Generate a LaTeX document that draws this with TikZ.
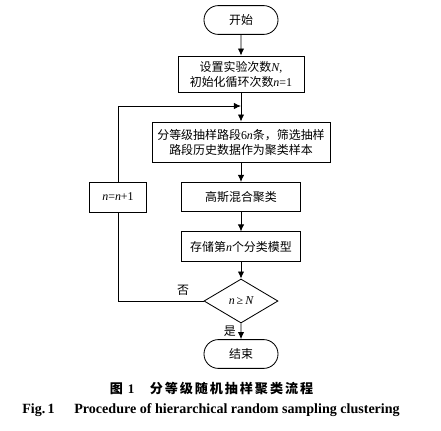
\documentclass[tikz,border=0pt]{standalone}
\usepackage{fontspec}
\setmainfont{Liberation Serif}
\newfontfamily\cjk{Noto Sans CJK SC}
\usetikzlibrary{shapes.geometric,shapes.misc,arrows.meta}

% latin parts inside cjk text
\newcommand{\vn}[1]{{\normalfont\itshape #1}}
\newcommand{\ltn}[1]{{\normalfont #1}}

\begin{document}
\begin{tikzpicture}[x=0.025cm, y=-0.025cm, line width=0.6pt,
    every node/.style={font=\cjk\fontsize{8.5}{10.7}\selectfont},
    proc/.style={draw, rectangle, align=center, inner sep=0pt},
    term/.style={draw, rounded rectangle, inner sep=0pt,
      minimum width=1.85cm, minimum height=0.72cm},
    decide/.style={draw, diamond, inner sep=0pt,
      minimum width=1.85cm, minimum height=1.1cm},
    arr/.style={-{Latex[length=5pt, width=4.5pt]}}]
  \useasboundingbox (0,0) rectangle (441,430);

  % main column
  \node[term] (start) at (241,20) {开始};
  \node[proc, minimum width=3.15cm, minimum height=0.9cm] (setn) at (241,74)
    {设置实验次数\vn{N}\ltn{,}\\初始化循环次数\vn{n}\ltn{=1}};
  \node[proc, minimum width=4.45cm, minimum height=1.0cm] (samp) at (241,142)
    {分等级抽样路段\ltn{6}\vn{n}条，筛选抽样\\路段历史数据作为聚类样本};
  \node[proc, minimum width=2.98cm, minimum height=0.73cm] (gauss) at (241,197)
    {高斯混合聚类};
  \node[proc, minimum width=2.98cm, minimum height=0.73cm] (store) at (241,246.5)
    {存储第\vn{n}个分类模型};
  \node[decide] (judge) at (241,301) {\vn{n}\ltn{\,≥\,}\vn{N}};
  \node[term] (stop) at (241,354) {结束};

  % loop back
  \node[proc, minimum width=1.43cm, minimum height=0.75cm] (inc) at (118,197)
    {\vn{n}\ltn{=}\vn{n}\ltn{+1}};
  \coordinate (join) at (241,106);

  \draw[arr] (start) -- (setn);
  \draw[arr] (setn) -- (samp);
  \draw[arr] (samp) -- (gauss);
  \draw[arr] (gauss) -- (store);
  \draw[arr] (store) -- (judge);
  \draw[arr] (judge) -- node[left] {是} (stop);
  \draw (judge.west) -| node[above, pos=0.12] {否} (inc.south);
  \draw[arr] (inc.north) |- (join);

  % caption
  \node[font=\cjk\bfseries\fontsize{9.3}{11}\selectfont] (cap1) at (211.5,388)
    {\makebox[5.08cm][s]{图\hspace{0.12cm}\ltn{\bfseries 1}\hfill
      \makebox[4.08cm][s]{分\hfil 等\hfil 级\hfil 随\hfil 机\hfil 抽\hfil
        样\hfil 聚\hfil 类\hfil 流\hfil 程}}};
  \node[font=\normalfont\bfseries\fontsize{10}{11}\selectfont] (cap2) at (211,410)
    {Fig.\,1\hspace{1.4em}Procedure of hierarchical random sampling clustering};
\end{tikzpicture}
\end{document}
